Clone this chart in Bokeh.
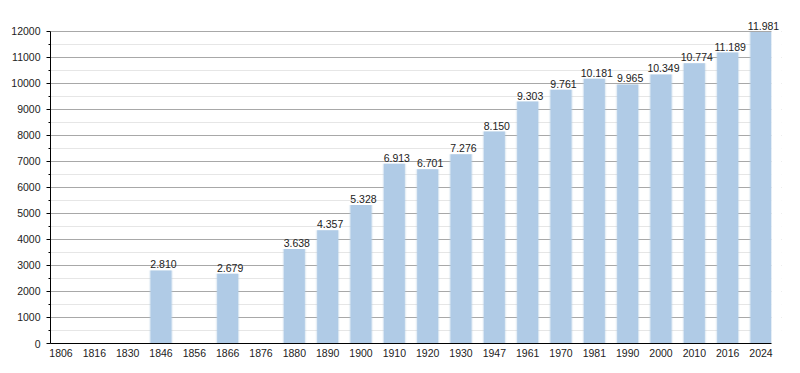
from bokeh.plotting import figure
from bokeh.models import ColumnDataSource, Range1d, FixedTicker, LabelSet, BoxAnnotation
from bokeh.core.properties import value
from bokeh.embed import file_html
from bokeh.resources import INLINE

years = ["1806", "1816", "1830", "1846", "1856", "1866", "1876", "1880", "1890",
         "1900", "1910", "1920", "1930", "1947", "1961", "1970", "1981", "1990",
         "2000", "2010", "2016", "2024"]
population = [None, None, None, 2810, None, 2679, None, 3638, 4357,
              5328, 6913, 6701, 7276, 8150, 9303, 9761, 10181, 9965,
              10349, 10774, 11189, 11981]
y_ticks = list(range(0, 12001, 1000))
y_minor = list(range(500, 12000, 1000))

xs = [i for i, v in enumerate(population) if v is not None]
vals = [v for v in population if v is not None]
labels = [f"{v:,}".replace(",", ".") for v in vals]
src = ColumnDataSource(dict(x=xs, top=vals, label=labels))

BW = 0.63
FONT = "Liberation Sans"
Y_MAX = 12000
X_LO = -BW / 2
X_HI = len(years) - 1 + BW / 2

p = figure(width=800, height=373, output_backend="svg", toolbar_location=None,
           x_range=Range1d(X_LO, X_HI + 0.3),
           y_range=Range1d(0, 12730),
           min_border_left=50, min_border_right=19, min_border_top=12, min_border_bottom=30)
p.outline_line_color = None
p.background_fill_color = "white"

# soft halo around bars
p.vbar(x="x", top="top", width=BW + 0.10, bottom=0, source=src,
       fill_color="#b3cde6", fill_alpha=0.15, line_color=None)
p.vbar(x="x", top="top", width=BW + 0.05, bottom=0, source=src,
       fill_color="#b3cde6", fill_alpha=0.3, line_color=None)
p.vbar(x="x", top="top", width=BW, bottom=0, source=src,
       fill_color="#b0cbe6", line_color=None)

# mask grid beyond the chart's right edge
p.add_layout(BoxAnnotation(left=X_HI, fill_color="white", fill_alpha=1.0,
                           line_color=None, level="glyph"))

ls = LabelSet(x="x", y="top", text="label", source=src, y_offset=2, x_offset=2.5,
              text_align="center", text_baseline="bottom",
              text_font=value(FONT), text_font_size="10.5px", text_color="#222222")
p.add_layout(ls)

# y axis
p.yaxis.ticker = FixedTicker(ticks=y_ticks, minor_ticks=y_minor)
p.yaxis.bounds = (0, Y_MAX)
p.yaxis.axis_line_color = "black"
p.yaxis.major_tick_out = 4
p.yaxis.major_tick_in = 0
p.yaxis.minor_tick_out = 2
p.yaxis.minor_tick_in = 0
p.yaxis.major_tick_line_color = "black"
p.yaxis.minor_tick_line_color = "black"
p.yaxis.major_label_text_font = FONT
p.yaxis.major_label_text_font_size = "10.5px"
p.yaxis.major_label_text_color = "#222222"
p.yaxis.major_label_standoff = 6

# x axis
p.xaxis.ticker = FixedTicker(ticks=list(range(len(years))))
p.xaxis.bounds = (X_LO, X_HI)
p.xaxis.major_label_overrides = {i: y for i, y in enumerate(years)}
p.xaxis.axis_line_color = "black"
p.xaxis.major_tick_line_color = None
p.xaxis.minor_tick_line_color = None
p.xaxis.major_tick_out = 0
p.xaxis.major_tick_in = 0
p.xaxis.major_label_standoff = 5
p.xaxis.major_label_text_font = FONT
p.xaxis.major_label_text_font_size = "10.5px"
p.xaxis.major_label_text_color = "#222222"

p.xgrid.grid_line_color = None
p.ygrid.grid_line_color = "#a8a8a8"
p.ygrid.minor_grid_line_color = "#e6e6e6"
p.ygrid.level = "underlay"

open("out.html", "w").write(file_html(p, INLINE))
